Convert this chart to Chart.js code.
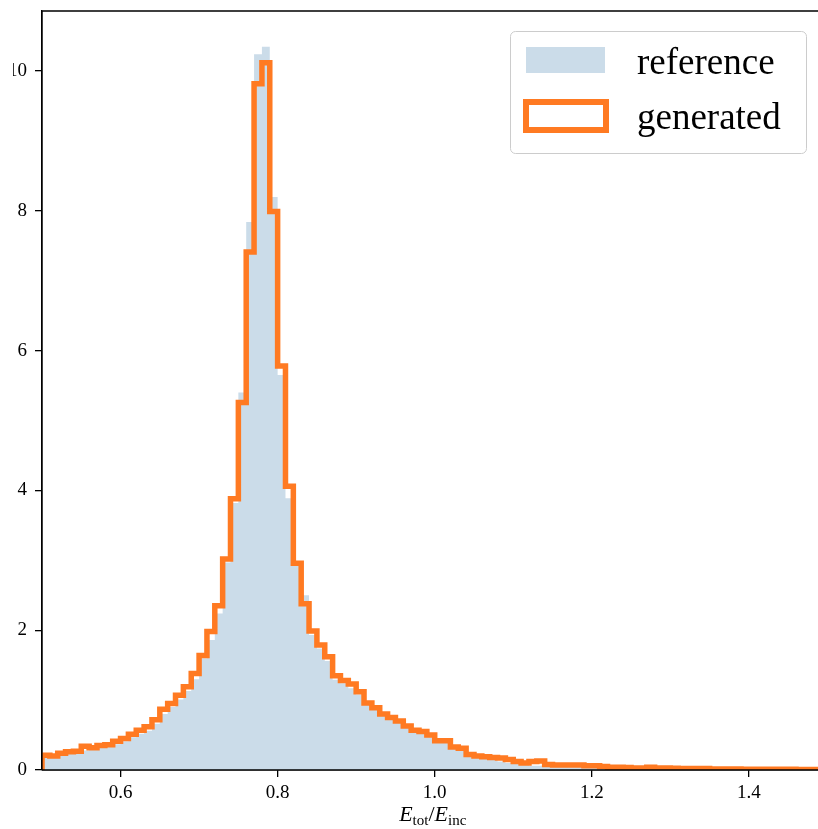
<!DOCTYPE html>
<html>
<head>
<meta charset="utf-8">
<script src="https://cdn.jsdelivr.net/npm/chart.js@4/dist/chart.umd.min.js"></script>
<style>
  html, body { margin: 0; padding: 0; background: #fff; overflow: hidden; }
  /* the original picture is cropped a little on the left */
  #crop { position: absolute; left: 13px; top: 0; width: 805px; height: 829px; overflow: hidden; }
  #wrap { position: absolute; left: -13px; top: 0; width: 818px; height: 829px; }
</style>
</head>
<body>
<div id="crop"><div id="wrap"><canvas id="hist" width="818" height="829"></canvas></div></div>
<script>
// bins of 0.01 from 0.5 to 1.5
const binEdges = Array.from({ length: 101 }, (_, i) => +(0.5 + i * 0.01).toFixed(2));

const referenceVals = [
  0.17, 0.17, 0.21, 0.23, 0.25, 0.28, 0.30, 0.32, 0.34, 0.37,
  0.41, 0.47, 0.52, 0.56, 0.66, 0.80, 0.90, 1.01, 1.13, 1.30,
  1.60, 1.86, 2.24, 2.97, 3.82, 5.40, 7.84, 10.24, 10.35, 8.20,
  5.65, 3.89, 2.93, 2.50, 1.93, 1.74, 1.56, 1.29, 1.24, 1.17,
  1.08, 0.95, 0.87, 0.79, 0.78, 0.68, 0.62, 0.56, 0.53, 0.48,
  0.43, 0.40, 0.34, 0.30, 0.23, 0.23, 0.17, 0.15, 0.12, 0.10,
  0.09, 0.07, 0.06, 0.06, 0.05, 0.05, 0.045, 0.04, 0.04, 0.035,
  0.03, 0.03, 0.025, 0.025, 0.02, 0.02, 0.02, 0.02, 0.018, 0.016,
  0.015, 0.014, 0.013, 0.012, 0.011, 0.01, 0.01, 0.009, 0.008, 0.008,
  0.007, 0.007, 0.006, 0.006, 0.005, 0.005, 0.005, 0.004, 0.004, 0.004
];

const generatedVals = [
  0.21, 0.20, 0.24, 0.26, 0.27, 0.34, 0.32, 0.35, 0.36, 0.41,
  0.45, 0.51, 0.57, 0.62, 0.72, 0.87, 0.95, 1.07, 1.19, 1.38,
  1.64, 1.98, 2.35, 3.02, 3.88, 5.26, 7.41, 9.82, 10.12, 7.99,
  5.78, 4.06, 2.96, 2.38, 1.99, 1.79, 1.62, 1.35, 1.28, 1.23,
  1.12, 0.96, 0.89, 0.80, 0.75, 0.70, 0.63, 0.57, 0.55, 0.50,
  0.42, 0.42, 0.33, 0.31, 0.22, 0.20, 0.19, 0.18, 0.17, 0.15,
  0.12, 0.10, 0.12, 0.13, 0.08, 0.07, 0.07, 0.07, 0.07, 0.06,
  0.06, 0.05, 0.04, 0.04, 0.035, 0.03, 0.03, 0.04, 0.03, 0.03,
  0.025, 0.02, 0.02, 0.02, 0.02, 0.015, 0.015, 0.015, 0.015, 0.012,
  0.012, 0.01, 0.01, 0.01, 0.01, 0.01, 0.008, 0.008, 0.008, 0.006
];

const xTicks = [0.6, 0.8, 1.0, 1.2, 1.4];
const yTicks = [0, 2, 4, 6, 8, 10];

const refColor = 'rgb(203, 220, 233)';
const genColor = '#ff7a22';
const serif = '"Liberation Serif", "DejaVu Serif", serif';

// histogram outline as step points, one per left bin edge
function stepPoints(vals) {
  const pts = [{ x: binEdges[0], y: 0 }];
  vals.forEach((v, i) => pts.push({ x: binEdges[i], y: v }));
  pts.push({ x: binEdges[vals.length], y: vals[vals.length - 1] });
  return pts;
}

const decor = {
  id: 'decor',
  afterDatasetsDraw(chart) {
    const { ctx, chartArea: a, scales: { x } } = chart;
    ctx.save();

    // spines on top of the marks
    ctx.strokeStyle = '#000';
    ctx.lineWidth = 1.3;
    ctx.beginPath();
    ctx.moveTo(a.left, a.bottom);
    ctx.lineTo(a.left, a.top);
    ctx.lineTo(a.right, a.top);
    ctx.moveTo(a.left, a.bottom);
    ctx.lineTo(a.right, a.bottom);
    ctx.stroke();

    // legend
    const ds = chart.data.datasets;
    const lx = a.right - 308, ly = a.top + 20, lw = 296, lh = 122;
    ctx.beginPath();
    ctx.roundRect(lx + 0.5, ly + 0.5, lw, lh, 5);
    ctx.fillStyle = 'rgba(255,255,255,0.8)';
    ctx.fill();
    ctx.strokeStyle = '#cccccc';
    ctx.lineWidth = 1;
    ctx.stroke();

    ctx.fillStyle = ds[0].backgroundColor;
    ctx.fillRect(lx + 16, ly + 16, 79, 26);
    ctx.strokeStyle = ds[1].borderColor;
    ctx.lineWidth = 6;
    ctx.lineJoin = 'miter';
    ctx.strokeRect(lx + 16, ly + 71, 80, 28);

    ctx.fillStyle = '#000';
    ctx.font = '37px ' + serif;
    ctx.textBaseline = 'alphabetic';
    ctx.textAlign = 'left';
    ctx.fillText(ds[0].label, lx + 127, ly + 43);
    ctx.fillText(ds[1].label, lx + 127, ly + 98);

    // x axis title: E_tot / E_inc
    const parts = [
      { t: 'E', f: 'italic 22px ' + serif, dy: 0 },
      { t: 'tot', f: '15px ' + serif, dy: 4 },
      { t: '/', f: '22px ' + serif, dy: 0 },
      { t: 'E', f: 'italic 22px ' + serif, dy: 0 },
      { t: 'inc', f: '15px ' + serif, dy: 4 }
    ];
    let total = 0;
    parts.forEach(p => { ctx.font = p.f; p.w = ctx.measureText(p.t).width; total += p.w; });
    const cx = (x.getPixelForValue(0.5) + x.getPixelForValue(1.5)) / 2 - 2;
    let px = cx - total / 2;
    const base = 821;
    parts.forEach(p => {
      ctx.font = p.f;
      ctx.fillText(p.t, px, base + p.dy);
      px += p.w;
    });

    ctx.restore();
  }
};

const axisGrid = {
  display: true,
  drawOnChartArea: false,
  drawTicks: true,
  tickLength: 7,
  color: '#000',
  lineWidth: 1.3
};

new Chart(document.getElementById('hist'), {
  type: 'line',
  data: {
    datasets: [
      {
        label: 'reference',
        data: stepPoints(referenceVals),
        stepped: 'before',
        fill: 'origin',
        backgroundColor: refColor,
        borderColor: 'rgba(0,0,0,0)',
        borderWidth: 0,
        pointRadius: 0,
        order: 2
      },
      {
        label: 'generated',
        data: stepPoints(generatedVals),
        stepped: 'before',
        fill: false,
        borderColor: genColor,
        backgroundColor: genColor,
        borderWidth: 5.5,
        borderJoinStyle: 'miter',
        borderCapStyle: 'butt',
        pointRadius: 0,
        order: 1
      }
    ]
  },
  options: {
    responsive: false,
    animation: false,
    devicePixelRatio: 1,
    layout: { padding: { top: 11, left: 0, right: 0, bottom: 0 } },
    plugins: {
      legend: { display: false },
      tooltip: { enabled: false }
    },
    scales: {
      x: {
        type: 'linear',
        min: 0.5,
        max: 1.488,
        afterBuildTicks: s => { s.ticks = xTicks.map(v => ({ value: v })); },
        afterFit: s => { s.height = 59; s.paddingLeft = 0; s.paddingRight = 0; },
        grid: axisGrid,
        border: { display: true, color: '#000', width: 1.3 },
        ticks: {
          padding: 5,
          maxRotation: 0,
          autoSkip: false,
          color: '#000',
          font: { family: serif, size: 19 },
          callback: v => v.toFixed(1)
        }
      },
      y: {
        type: 'linear',
        min: 0,
        max: 10.86,
        afterBuildTicks: s => { s.ticks = yTicks.map(v => ({ value: v })); },
        afterFit: s => { s.width = 42; s.paddingTop = 0; s.paddingBottom = 0; },
        grid: axisGrid,
        border: { display: true, color: '#000', width: 1.3 },
        ticks: {
          padding: 8,
          color: '#000',
          font: { family: serif, size: 19 },
          callback: v => String(v)
        }
      }
    }
  },
  plugins: [decor]
});
</script>
</body>
</html>
